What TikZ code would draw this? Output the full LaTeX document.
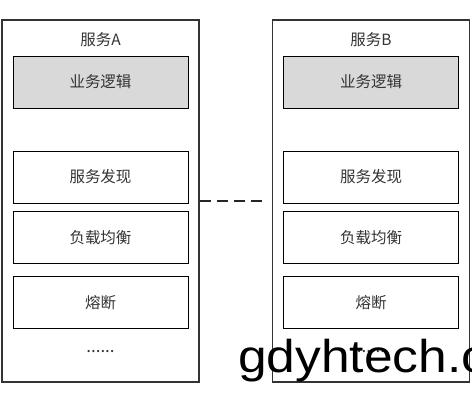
\documentclass[tikz,border=0pt]{standalone}
\usepackage{fontspec}
\newfontfamily\cjk{Noto Sans CJK SC}
\newfontfamily\wmfont{Liberation Sans}
\usetikzlibrary{positioning}

\begin{document}
\begin{tikzpicture}[x=1pt, y=-1pt, font=\cjk\fontsize{15.5}{18}\selectfont,
    svc/.style={draw=black!80, line width=1.6pt, minimum width=197pt, minimum height=362pt},
    part/.style={draw=black, line width=0.9pt, minimum width=175pt, minimum height=52pt, text=black!80},
    lbl/.style={text=black!80, inner sep=0pt}]
  % canvas 472 x 403, y down
  \useasboundingbox (0,0) rectangle (472,403);
  \clip (0,0) rectangle (472,403);
  % ---------------------------------------------------------------- the two services
  \foreach \s/\cx in {A/100.5, B/371} {
    \node[svc] (svc\s) at (\cx,201) {};
    \node[lbl] (title\s) at (\cx,40) {服务\s};
    \node[part, fill=black!15] (logic\s) at (\cx,82) {业务逻辑};
    \node[part] (disc\s) at (\cx,177) {服务发现};
    \node[part] (lb\s) at (\cx,237.5) {负载均衡};
    \node[part] (fuse\s) at (\cx,302.5) {熔断};
    \node[lbl, font=\cjk\fontsize{17}{18}\selectfont] (more\s) at (\cx,352) {......};
  }
  % ---------------------------------------------------------------- link
  \draw[black!85, line width=1.1pt, dash pattern=on 11pt off 6pt, shorten >=4pt] (svcA.east) -- (svcB.west);
  % watermark
  \node[anchor=base west, inner sep=0pt, font=\wmfont\fontsize{46}{50}\selectfont] (mark) at (238,373) {\scalebox{1.12}[1]{gdyhtech.c}};
\end{tikzpicture}
\end{document}
